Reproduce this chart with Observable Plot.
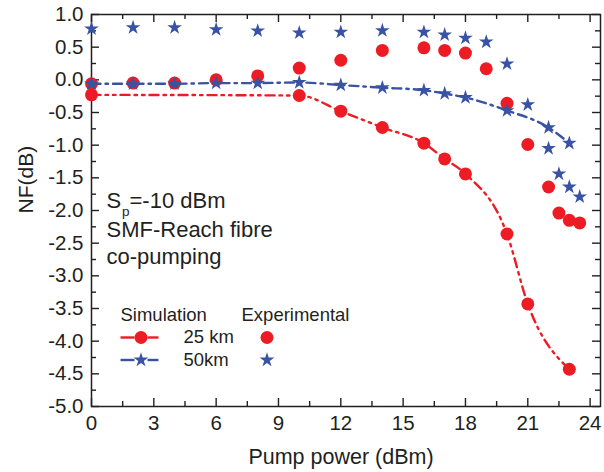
<!DOCTYPE html>
<html><head><meta charset="utf-8">
<script src="https://cdn.jsdelivr.net/npm/d3@7"></script>
<script src="https://cdn.jsdelivr.net/npm/@observablehq/plot@0.6"></script>
<style>
body{margin:0;background:#fff;}
#chart svg{display:block;}
</style></head><body><div id="chart"></div>
<script>
// ---- data ----
const simRedX = [0, 10, 12, 14, 16, 17, 18, 20, 21, 23];
const simRedY = [-0.23, -0.24, -0.48, -0.73, -0.97, -1.21, -1.44, -2.36, -3.43, -4.43];
const simBlueX = [0, 2, 4, 6, 8, 10, 12, 14, 16, 17, 18, 20, 22, 23];
const simBlueY = [-0.06, -0.06, -0.06, -0.05, -0.05, -0.04, -0.08, -0.12, -0.16, -0.21, -0.27, -0.47, -0.73, -0.97];
const expX = [0, 2, 4, 6, 8, 10, 12, 14, 16, 17, 18, 19, 20, 21, 22, 22.5, 23, 23.5];
const expRedY = [-0.06, -0.05, -0.05, 0.0, 0.06, 0.18, 0.30, 0.45, 0.49, 0.45, 0.41, 0.17, -0.36, -0.99, -1.64, -2.04, -2.15, -2.19];
const expBlueY = [0.78, 0.80, 0.80, 0.77, 0.75, 0.72, 0.73, 0.755, 0.73, 0.69, 0.64, 0.58, 0.245, -0.38, -1.05, -1.44, -1.64, -1.79];
const xMajor = [0, 3, 6, 9, 12, 15, 18, 21, 24];
const xTickLabels = ["0", "3", "6", "9", "12", "15", "18", "21", "24"];
const xMinor = [1.5, 4.5, 7.5, 10.5, 13.5, 16.5, 19.5, 22.5];
const yMajor = [1, 0.5, 0, -0.5, -1, -1.5, -2, -2.5, -3, -3.5, -4, -4.5, -5];
const yTickLabels = ["1.0", "0.5", "0.0", "-0.5", "-1.0", "-1.5", "-2.0", "-2.5", "-3.0", "-3.5", "-4.0", "-4.5", "-5.0"];
const yMinor = [0.75, 0.25, -0.25, -0.75, -1.25, -1.75, -2.25, -2.75, -3.25, -3.75, -4.25, -4.75];
const seriesNames = ["25 km", "50km"];

// ---- layout ----
const W = 604, H = 472, mL = 91, mR = 4, mT = 14, mB = 66;
const xDom = [0, 24.5], yDom = [-5, 1];
const xPerPx = (xDom[1] - xDom[0]) / (W - mL - mR);
const yPerPx = (yDom[1] - yDom[0]) / (H - mT - mB);
const RED = "#ed1c24", BLUE = "#3953a4", INK = "#231f20";
const FONT = "'Liberation Sans', Arial, sans-serif";
const px2x = p => xDom[0] + (p - mL) * xPerPx;
const px2y = p => yDom[1] - (p - mT) * yPerPx;

const simRed = simRedX.map((x, i) => ({x, y: simRedY[i]}));
const simBlue = simBlueX.map((x, i) => ({x, y: simBlueY[i]}));
const expRed = expX.map((x, i) => ({x, y: expRedY[i]}));
const expBlue = expX.map((x, i) => ({x, y: expBlueY[i]}));

const MAJ = 8, MIN = 5;
const ticks = [
  Plot.ruleX(xMajor, {x: d => d, y1: yDom[0], y2: yDom[0] + MAJ * yPerPx, stroke: INK, strokeWidth: 1.4}),
  Plot.ruleX(xMinor, {x: d => d, y1: yDom[0], y2: yDom[0] + MIN * yPerPx, stroke: INK, strokeWidth: 1.4}),
  Plot.ruleX(xMajor, {x: d => d, y1: yDom[1], y2: yDom[1] - MAJ * yPerPx, stroke: INK, strokeWidth: 1.4}),
  Plot.ruleX(xMinor, {x: d => d, y1: yDom[1], y2: yDom[1] - MIN * yPerPx, stroke: INK, strokeWidth: 1.4}),
  Plot.ruleY(yMajor, {y: d => d, x1: xDom[0], x2: xDom[0] + MAJ * xPerPx, stroke: INK, strokeWidth: 1.4}),
  Plot.ruleY(yMinor, {y: d => d, x1: xDom[0], x2: xDom[0] + MIN * xPerPx, stroke: INK, strokeWidth: 1.4}),
  Plot.ruleY(yMajor, {y: d => d, x1: xDom[1], x2: xDom[1] - MAJ * xPerPx, stroke: INK, strokeWidth: 1.4}),
  Plot.ruleY(yMinor, {y: d => d, x1: xDom[1], x2: xDom[1] - MIN * xPerPx, stroke: INK, strokeWidth: 1.4})
];

// legend positions (pixel layout converted to data units)
const lgY1 = px2y(337), lgY2 = px2y(359.5), lgHead = px2y(315);
const lgX0 = px2x(120), lgXa = px2x(134), lgXm = px2x(140.5), lgXb = px2x(147), lgX1 = px2x(158);
const lgText = px2x(183), lgExpText = px2x(241), lgExp = px2x(266.5);

const chart = Plot.plot({
  width: W, height: H,
  marginLeft: mL, marginRight: mR, marginTop: mT, marginBottom: mB,
  x: {domain: xDom, axis: null},
  y: {domain: yDom, axis: null},
  style: {fontFamily: FONT, color: INK, background: "#fff"},
  marks: [
    ...ticks,
    Plot.frame({stroke: INK, strokeWidth: 1.5}),
    Plot.axisX(xMajor, {anchor: "bottom", tickSize: 0, tickPadding: 9, fontSize: 20.5, fill: INK,
      tickFormat: d => xTickLabels[xMajor.indexOf(d)], label: null}),
    Plot.axisY(yMajor, {anchor: "left", tickSize: 0, tickPadding: 8, fontSize: 20.5, fill: INK,
      tickFormat: d => yTickLabels[yMajor.indexOf(d)], label: null}),
    Plot.text(["Pump power (dBm)"], {frameAnchor: "bottom", dx: -5, dy: 57, fontSize: 21.5, fill: INK}),
    Plot.text(["NF(dB)"], {frameAnchor: "left", dx: -65, dy: 3, rotate: -90, fontSize: 21, fill: INK}),
    // experimental
    Plot.dot(expRed, {x: "x", y: "y", r: 6.5, fill: RED, stroke: "none"}),
    Plot.dot(expBlue, {x: "x", y: "y", r: 4.6, symbol: "star", fill: BLUE, stroke: "none"}),
    // simulation lines
    Plot.line(simRed, {x: "x", y: "y", stroke: RED, strokeWidth: 2.4, curve: "monotone-x", strokeDasharray: "9,5,2.5,5,2.5,5"}),
    Plot.line(simBlue, {x: "x", y: "y", stroke: BLUE, strokeWidth: 2.4, curve: "monotone-x", strokeDasharray: "9,5,2.5,5"}),
    Plot.dot(simRed, {x: "x", y: "y", r: 6.5, fill: RED, stroke: "none"}),
    Plot.dot(simBlue, {x: "x", y: "y", r: 4.6, symbol: "star", fill: BLUE, stroke: "none"}),
    // annotation
    Plot.text(["S"], {x: px2x(106), y: px2y(200), textAnchor: "start", fontSize: 22, fill: INK}),
    Plot.text(["p"], {x: px2x(121.5), y: px2y(211), textAnchor: "start", fontSize: 13.5, fill: INK}),
    Plot.text(["=-10 dBm"], {x: px2x(129), y: px2y(200), textAnchor: "start", fontSize: 22, fill: INK}),
    Plot.text(["SMF-Reach fibre"], {x: px2x(106), y: px2y(229.5), textAnchor: "start", fontSize: 22, fill: INK}),
    Plot.text(["co-pumping"], {x: px2x(106), y: px2y(256), textAnchor: "start", fontSize: 22, fill: INK}),
    // legend
    Plot.text(["Simulation"], {x: lgX0, y: lgHead, textAnchor: "start", fontSize: 18.5, fill: INK}),
    Plot.text(["Experimental"], {x: lgExpText, y: lgHead, textAnchor: "start", fontSize: 18.5, fill: INK}),
    Plot.link([lgX0, lgXb], {x1: d => d, x2: d => d === lgX0 ? lgXa : lgX1, y1: lgY1, y2: lgY1, stroke: RED, strokeWidth: 2.4}),
    Plot.link([lgX0, lgXb], {x1: d => d, x2: d => d === lgX0 ? lgXa : lgX1, y1: lgY2, y2: lgY2, stroke: BLUE, strokeWidth: 2.4}),
    Plot.dot([lgXm], {x: d => d, y: lgY1, r: 6.5, fill: RED}),
    Plot.dot([lgXm], {x: d => d, y: lgY2, r: 4.6, symbol: "star", fill: BLUE}),
    Plot.text([seriesNames[0]], {x: lgText, y: lgY1, textAnchor: "start", fontSize: 18.5, fill: INK}),
    Plot.text([seriesNames[1]], {x: lgText, y: lgY2, textAnchor: "start", fontSize: 18.5, fill: INK}),
    Plot.dot([lgExp], {x: d => d, y: lgY1, r: 6.5, fill: RED}),
    Plot.dot([lgExp], {x: d => d, y: lgY2, r: 4.6, symbol: "star", fill: BLUE})
  ]
});
document.getElementById("chart").appendChild(chart);
</script></body></html>
